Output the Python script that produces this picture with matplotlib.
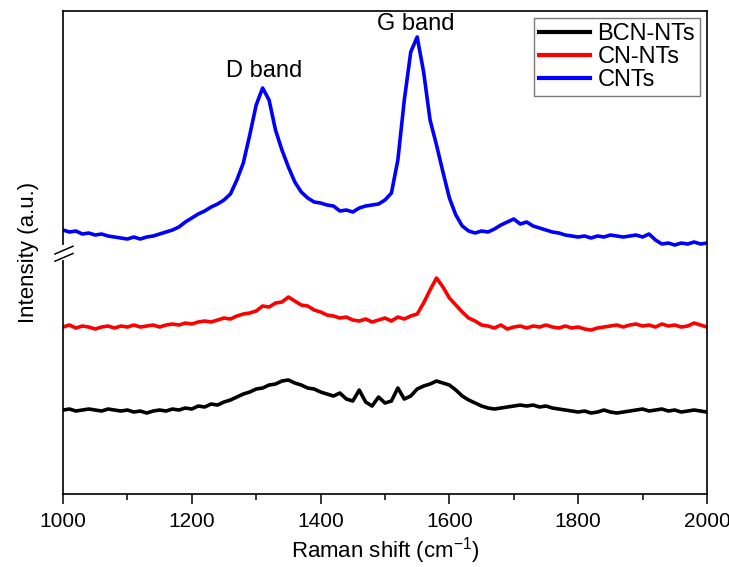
import numpy as np
import matplotlib
matplotlib.use("Agg")
import matplotlib.pyplot as plt
from matplotlib.ticker import MultipleLocator

plt.rcParams['font.family'] = ['Liberation Sans', 'DejaVu Sans']

# Raman shift grid (cm-1) and offset spectra (a.u.)
shift = np.arange(1000, 2001, 10)

cnts = [264, 262, 263, 260, 261, 259, 260, 258, 257, 256,
        255, 257, 255, 257, 258, 260, 262, 264, 267, 272,
        276, 280, 283, 287, 290, 294, 300, 314, 331, 359,
        389, 406, 394, 364, 344, 327, 312, 302, 296, 292,
        291, 289, 288, 283, 284, 282, 286, 288, 289, 290,
        294, 301, 334, 394, 442, 457, 422, 374, 349, 322,
        296, 279, 268, 263, 261, 263, 262, 265, 269, 272,
        275, 270, 272, 268, 266, 264, 262, 261, 259, 258,
        257, 258, 256, 258, 257, 259, 258, 257, 258, 259,
        257, 260, 254, 250, 251, 249, 251, 250, 252, 250,
        251]

cn_nts = [167, 169, 166, 168, 167, 165, 167, 168, 166, 168,
          167, 169, 167, 168, 169, 167, 169, 170, 169, 171,
          170, 172, 173, 172, 174, 176, 175, 178, 180, 181,
          183, 188, 187, 191, 192, 197, 193, 189, 188, 184,
          182, 179, 178, 176, 177, 174, 173, 175, 172, 174,
          176, 173, 177, 175, 178, 180, 191, 204, 216, 207,
          196, 189, 182, 176, 173, 169, 168, 166, 169, 165,
          167, 168, 166, 168, 167, 169, 167, 166, 168, 166,
          167, 165, 164, 166, 167, 168, 169, 167, 169, 170,
          168, 169, 167, 170, 168, 169, 167, 168, 171, 169,
          167]

bcn_nts = [84, 85, 83, 84, 85, 84, 83, 85, 84, 83,
           84, 82, 83, 81, 83, 84, 83, 85, 84, 86,
           85, 88, 87, 90, 89, 92, 94, 97, 100, 102,
           105, 106, 109, 110, 113, 114, 111, 109, 106, 105,
           102, 100, 98, 101, 95, 93, 104, 92, 88, 97,
           91, 93, 106, 95, 98, 105, 108, 110, 113, 111,
           109, 104, 98, 94, 91, 88, 86, 85, 86, 87,
           88, 89, 88, 89, 87, 88, 86, 85, 84, 83,
           82, 83, 81, 82, 84, 82, 81, 82, 83, 84,
           85, 83, 84, 85, 83, 84, 82, 83, 84, 83,
           82]

labels = ['BCN-NTs', 'CN-NTs', 'CNTs']
colors = ['black', 'red', 'blue']

fig = plt.figure(figsize=(7.29, 5.67), dpi=100)
ax = fig.add_axes([0.0864, 0.1287, 0.8834, 0.8519])

for y, lab, c in zip([bcn_nts, cn_nts, cnts], labels, colors):
    ax.plot(shift, y, color=c, lw=2.6, label=lab)

ax.set_xlim(1000, 2000)
ax.set_ylim(0, 483)
ax.xaxis.set_major_locator(MultipleLocator(200))
ax.xaxis.set_minor_locator(MultipleLocator(100))
ax.tick_params(axis='x', which='major', direction='out', length=7, width=1.1, labelsize=15, pad=6)
ax.tick_params(axis='x', which='minor', direction='out', length=4, width=1.1)
ax.set_yticks([])
for sp in ax.spines.values():
    sp.set_linewidth(1.2)

ax.set_xlabel('Raman shift (cm$^{\\mathregular{-1}}$)', fontsize=16, labelpad=3)
ax.set_ylabel('Intensity (a.u.)', fontsize=16, labelpad=17)

ax.text(1312, 412, 'D band', fontsize=17, ha='center', va='bottom')
ax.text(1548, 459, 'G band', fontsize=17, ha='center', va='bottom')

leg = ax.legend(loc='upper right', bbox_to_anchor=(0.989, 0.985), fontsize=17,
                frameon=True, fancybox=False, edgecolor='0.35', handlelength=2.2,
                handletextpad=0.3, borderpad=0.2, labelspacing=0.05, borderaxespad=0)
leg.get_frame().set_linewidth(1.0)
for line in leg.get_lines():
    line.set_linewidth(3)

# axis break on the left spine
ax.plot([0, 0], [0.489, 0.511], transform=ax.transAxes, color='white',
        lw=3, clip_on=False, zorder=5)
for y0 in (0.482, 0.497):
    ax.plot([-0.0124, 0.0155], [y0, y0 + 0.016], transform=ax.transAxes,
            color='black', lw=1.1, clip_on=False, zorder=6)

fig.savefig('out.png', dpi=100)
